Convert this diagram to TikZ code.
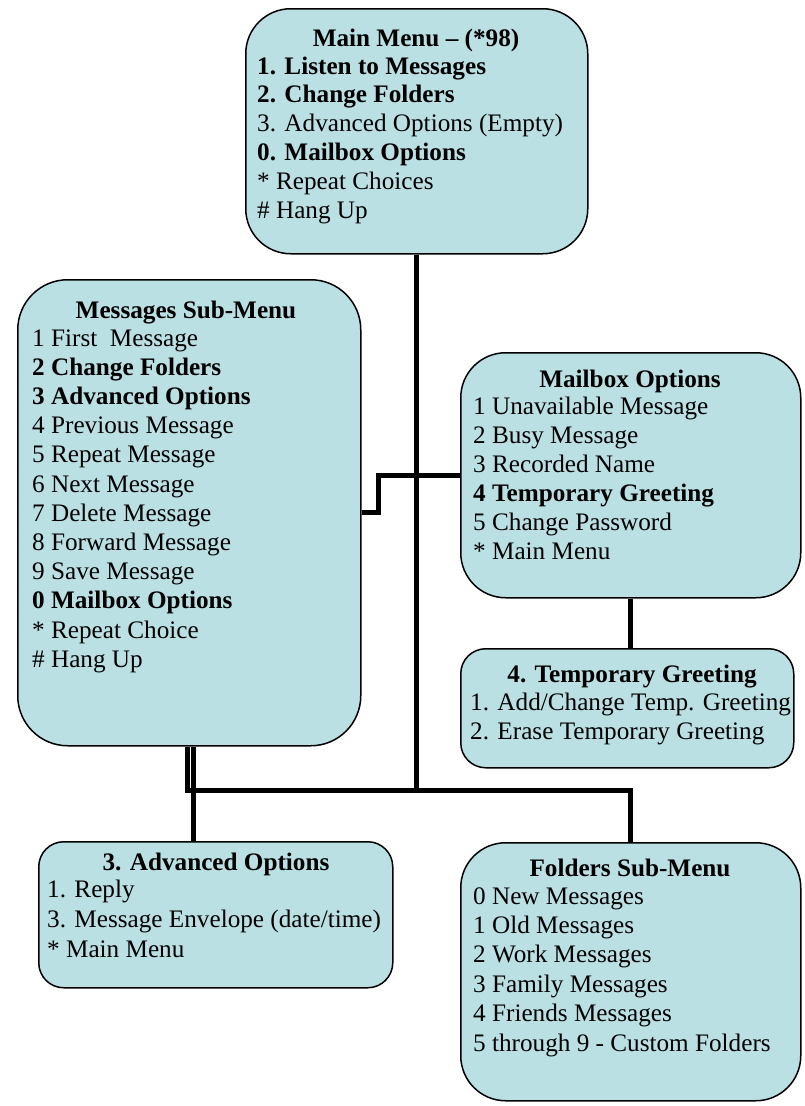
\documentclass[tikz,border=0pt]{standalone}
\usepackage{fontspec}
\setmainfont{Liberation Serif}
\definecolor{boxblue}{RGB}{187,224,228}
\tikzset{
  menubox/.style={draw=black, line width=1.5pt, fill=boxblue, anchor=north west, inner sep=0pt},
  conn/.style={draw=black, line width=5pt},
  txt/.style={anchor=base west, inner sep=0pt},
  ttl/.style={anchor=base, inner sep=0pt, font=\fontsize{25.2}{29}\selectfont\bfseries},
}
\newcommand\menulines[5]{%
  \foreach \t [count=\i from 0] in {#5} {
    \node[txt] (#1-\i) at (#2, #3+\i*#4) {\t};
  }%
}
\begin{document}
\begin{tikzpicture}[x=1pt, y=-1pt, font=\fontsize{25.2}{29}\selectfont]
\useasboundingbox (0,0) rectangle (804,1106);

% boxes
\node[menubox, rounded corners=45pt, minimum width=342pt, minimum height=245pt] (main) at (245,8) {};
\node[menubox, rounded corners=50pt, minimum width=343pt, minimum height=466pt] (msg) at (17,279) {};
\node[menubox, rounded corners=45pt, minimum width=340pt, minimum height=245pt] (mail) at (460,352) {};
\node[menubox, rounded corners=25pt, minimum width=333pt, minimum height=119pt] (temp) at (460,648) {};
\node[menubox, rounded corners=25pt, minimum width=354pt, minimum height=146pt] (adv) at (38,841) {};
\node[menubox, rounded corners=45pt, minimum width=340pt, minimum height=258pt] (fold) at (460,842) {};

% connectors
\coordinate (bus) at (0,790);
\draw[conn] (main.south) -- (main.south |- bus);
\draw[conn] ([xshift=-2pt]msg.south) -- ([xshift=-2pt]msg.south |- bus) -| (fold.north);
\draw[conn] ([xshift=4pt]msg.south) -- ([xshift=4pt]msg.south |- adv.north);
\draw[conn] (msg.east) -- ++(17,0) |- (mail.west);
\draw[conn] (mail.south) -- (mail.south |- temp.north);

% Main menu
\node[ttl] (mainT) at (416,46) {Main Menu -- (*98)};
\menulines{mainL}{257}{74}{28.8}{{\textbf{1. Listen to Messages}},{\textbf{2. Change Folders}},{3. Advanced Options (Empty)},{\textbf{0. Mailbox Options}},{* Repeat Choices},{\# Hang Up}}

% Messages sub-menu
\node[ttl] (msgT) at (186,318) {Messages Sub-Menu};
\menulines{msgL}{32}{346}{29.2}{{1 First~~Message},{\textbf{2 Change Folders}},{\textbf{3 Advanced Options}},{4 Previous Message},{5 Repeat Message},{6 Next Message},{7 Delete Message},{8 Forward Message},{9 Save Message},{\textbf{0 Mailbox Options}},{* Repeat Choice},{\# Hang Up}}

% Mailbox options
\node[ttl] (mailT) at (630,387) {Mailbox Options};
\menulines{mailL}{473}{414}{29}{{1 Unavailable Message},{2 Busy Message},{3 Recorded Name},{\textbf{4 Temporary Greeting}},{5 Change Password},{* Main Menu}}

% Temporary greeting
\node[ttl] (tempT) at (632,682) {4. Temporary Greeting};
\menulines{tempL}{470}{710}{29}{{1. Add/Change Temp. Greeting},{2. Erase Temporary Greeting}}

% Advanced options
\node[ttl] (advT) at (216,870) {3. Advanced Options};
\menulines{advL}{47}{897}{30}{{1. Reply},{3. Message Envelope (date/time)},{* Main Menu}}

% Folders sub-menu
\node[ttl] (foldT) at (630,876) {Folders Sub-Menu};
\menulines{foldL}{473}{904}{29.4}{{0 New Messages},{1 Old Messages},{2 Work Messages},{3 Family Messages},{4 Friends Messages},{5 through 9 - Custom Folders}}
\end{tikzpicture}
\end{document}
